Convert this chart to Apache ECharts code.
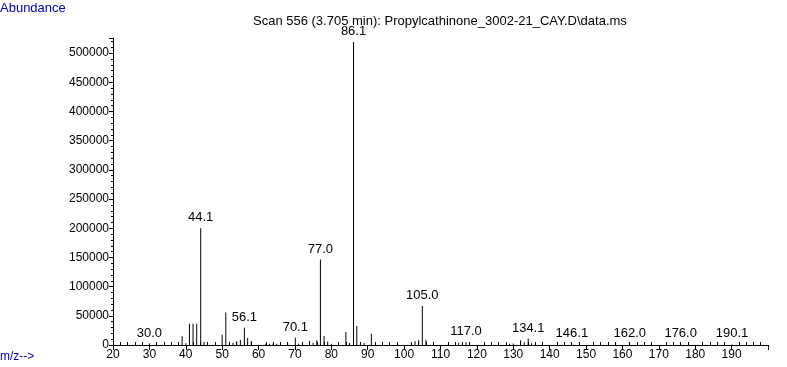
<!DOCTYPE html>
<html>
<head>
<meta charset="utf-8">
<script src="https://cdn.jsdelivr.net/npm/echarts@6/dist/echarts.min.js"></script>
<style>html,body{margin:0;padding:0;background:#fff;}#c{width:787px;height:367px;}</style>
</head>
<body>
<div id="c"></div>
<script>
const titleText = 'Scan 556 (3.705 min): Propylcathinone_3002-21_CAY.D\\data.ms';
const mz = [30.0, 39, 40, 41, 42, 43, 44.1, 45, 50, 51, 52, 53, 54, 55, 56.1, 57, 58, 62, 63, 64, 65, 68, 70.1, 71, 74, 75, 76, 77.0, 78, 79, 80, 84, 85, 86.1, 87, 88, 89, 91, 102, 103, 104, 105.0, 106, 115, 116, 117.0, 118, 129, 130, 132, 133, 134.1, 135, 146.1, 162.0, 176.0, 190.1];
const abundance = [2500, 15000, 3000, 36600, 36600, 36600, 200000, 5000, 17700, 55500, 5000, 4000, 6500, 9000, 29700, 12000, 7000, 2000, 2000, 2000, 2000, 3000, 12500, 2000, 7000, 4000, 8000, 146600, 15500, 6000, 2000, 22300, 3500, 519000, 32600, 3500, 3500, 19400, 5000, 6500, 8000, 67000, 9000, 4000, 3000, 4500, 2500, 2000, 2500, 8000, 4500, 11000, 3000, 1000, 1000, 1000, 1000];
const labeledMz = [30.0, 44.1, 56.1, 70.1, 77.0, 86.1, 105.0, 117.0, 134.1, 146.1, 162.0, 176.0, 190.1];
const xMin = 20, xMax = 200, xStep = 10;
const yMin = 0, yMax = 526000, yStep = 50000;

const font = '"Liberation Sans", Arial, sans-serif';
const data = mz.map((m, i) => {
  const item = { value: [m, abundance[i]] };
  if (labeledMz.indexOf(m) >= 0) item.label = { show: true };
  return item;
});

const chart = echarts.init(document.getElementById('c'), null, { renderer: 'canvas' });
chart.setOption({
  animation: false,
  backgroundColor: '#ffffff',
  grid: { left: 113, right: 19, top: 38, bottom: 22 },
  graphic: [
    { type: 'text', left: 0, top: 2, style: { text: 'Abundance', fill: '#0000a8', font: '13px ' + font } },
    { type: 'text', left: 0, top: 351, style: { text: 'm/z-->', fill: '#0000a8', font: '12px ' + font } },
    { type: 'text', left: 253, top: 15, style: { text: titleText, fill: '#000', font: '13px ' + font } }
  ],
  xAxis: [{
    type: 'value', min: xMin, max: xMax, interval: xStep,
    axisLine: { show: true, lineStyle: { color: '#000', width: 1 } },
    axisTick: { show: true, length: 5, lineStyle: { color: '#000' } },
    minorTick: { show: false },
    splitLine: { show: false },
    axisLabel: { color: '#000', fontSize: 12, fontFamily: font, margin: 4,
      formatter: v => (v >= xMax ? '' : String(v)) }
  }, {
    type: 'value', min: xMin, max: xMax, interval: xStep, position: 'bottom',
    axisLine: { show: false },
    axisTick: { show: false, inside: true },
    minorTick: { show: true, splitNumber: 5, length: 3, lineStyle: { color: '#000' } },
    splitLine: { show: false },
    axisLabel: { show: false }
  }],
  yAxis: {
    type: 'value', min: yMin, max: yMax, interval: yStep,
    axisLine: { show: true, lineStyle: { color: '#000', width: 1 } },
    axisTick: { show: true, length: 4, lineStyle: { color: '#000' } },
    minorTick: { show: true, splitNumber: 5, length: 2, lineStyle: { color: '#000' } },
    splitLine: { show: false },
    axisLabel: { color: '#000', fontSize: 12, fontFamily: font, margin: 4, showMaxLabel: false,
      formatter: v => String(v) }
  },
  series: [{
    type: 'bar', xAxisIndex: 0, barWidth: 1,
    itemStyle: { color: '#000' },
    label: { show: false, position: 'top', distance: 4, color: '#000', fontSize: 13, fontFamily: font,
      formatter: p => p.value[0].toFixed(1) },
    data: data
  }]
});
</script>
</body>
</html>
